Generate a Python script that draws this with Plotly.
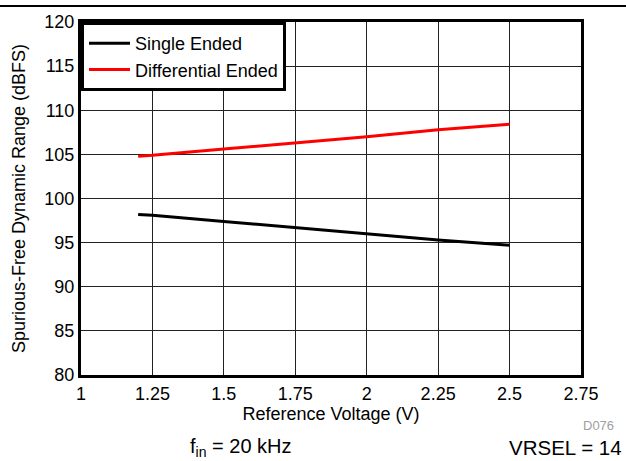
import plotly.graph_objects as go

vref = [1.2, 1.25, 1.5, 1.75, 2.0, 2.25, 2.5]
single_ended = [98.2, 98.1, 97.4, 96.7, 96.0, 95.3, 94.7]
diff_ended = [104.8, 104.9, 105.6, 106.3, 107.0, 107.8, 108.4]

x_ticks = [1, 1.25, 1.5, 1.75, 2, 2.25, 2.5, 2.75]
x_labels = ['1', '1.25', '1.5', '1.75', '2', '2.25', '2.5', '2.75']
y_ticks = [80, 85, 90, 95, 100, 105, 110, 115, 120]

fig = go.Figure()
fig.add_trace(go.Scatter(x=vref, y=single_ended, mode='lines', name='Single Ended',
                         line=dict(color='black', width=3)))
fig.add_trace(go.Scatter(x=vref, y=diff_ended, mode='lines', name='Differential Ended',
                         line=dict(color='#ff0000', width=3)))

axis_style = dict(showline=True, linecolor='black', linewidth=3, mirror=True,
                  showgrid=True, gridcolor='#222222', gridwidth=1, zeroline=False,
                  ticks='', tickfont=dict(size=18, color='black'))

fig.update_xaxes(range=[1, 2.75], tickvals=x_ticks, ticktext=x_labels,
                 title=dict(text='Reference Voltage (V)', font=dict(size=18, color='black'), standoff=5),
                 **axis_style)
fig.update_yaxes(range=[80, 120], tickvals=y_ticks,
                 title=dict(text='Spurious-Free Dynamic Range (dBFS)', font=dict(size=18, color='black'), standoff=15),
                 **axis_style)

fig.update_layout(
    width=626, height=461,
    margin=dict(l=81, r=45, t=19, b=86),
    paper_bgcolor='white', plot_bgcolor='white',
    font=dict(family='Liberation Sans, Arial, sans-serif', color='black'),
    showlegend=True,
    legend=dict(x=0, y=1, xanchor='left', yanchor='top', bgcolor='white',
                bordercolor='black', borderwidth=3, font=dict(size=18),
                tracegroupgap=0, itemwidth=41),
    shapes=[dict(type='line', xref='paper', yref='paper', x0=-0.2, x1=1.2,
                 y0=1.045, y1=1.045, line=dict(color='black', width=2))],
    annotations=[
        dict(text='D076', xref='paper', yref='paper', x=1.07, y=-0.143,
             xanchor='right', yanchor='middle', showarrow=False,
             font=dict(size=13, color='#a0a0a0')),
        dict(text='VRSEL = 14', xref='paper', yref='paper', x=1.085, y=-0.205,
             xanchor='right', yanchor='middle', showarrow=False,
             font=dict(size=20.5, color='black')),
        dict(text='f<sub>in</sub> = 20 kHz', xref='paper', yref='paper', x=0.32, y=-0.205,
             xanchor='center', yanchor='middle', showarrow=False,
             font=dict(size=20, color='black')),
    ],
)

fig.write_html("out.html", config={'displayModeBar': False},
               post_script="document.body.style.margin='0';")
